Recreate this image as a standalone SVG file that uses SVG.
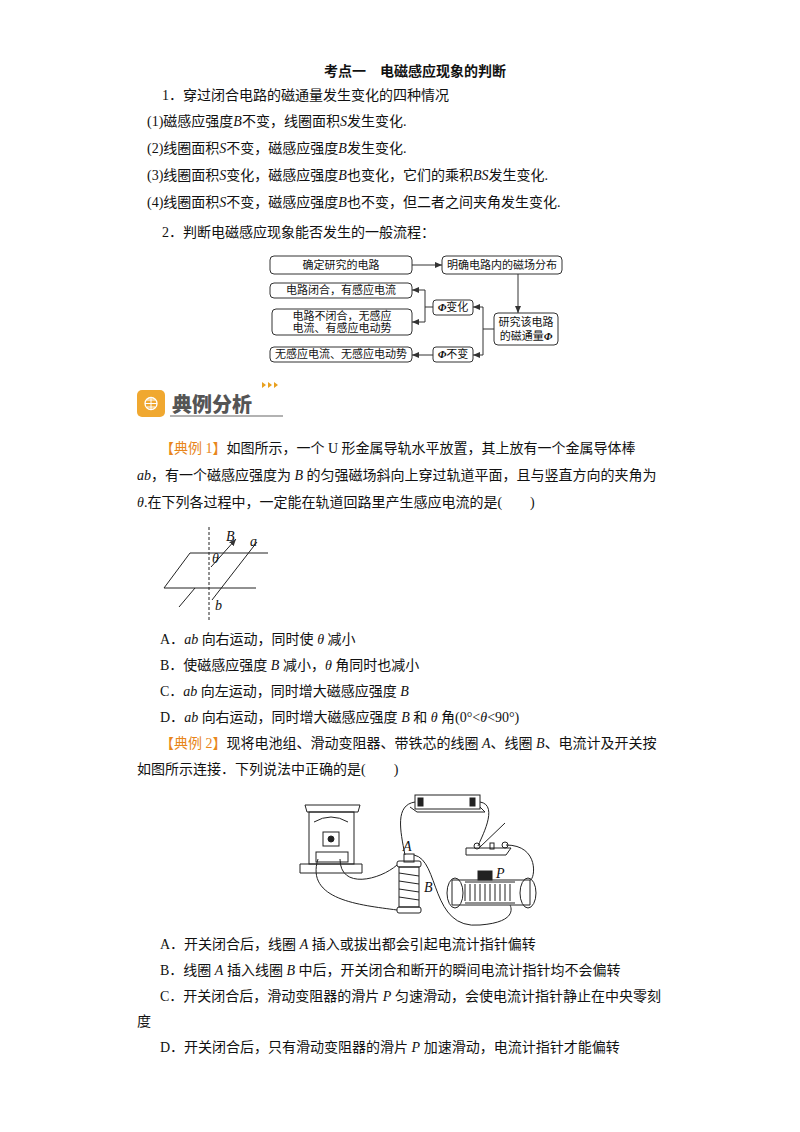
<svg xmlns="http://www.w3.org/2000/svg" width="800" height="1132" viewBox="0 0 800 1132">
<style>
text{font-family:"Liberation Serif","Noto Sans CJK SC",serif;font-size:14px;fill:#111}
.b{font-weight:bold}
.f{font-size:11px}
.box{fill:#fff;stroke:#333;stroke-width:1}
.ln{fill:none;stroke:#333;stroke-width:1}
.d{fill:none;stroke:#222;stroke-width:1}
.o{fill:#e8861a}
</style>
<defs><marker id="ar" markerWidth="8" markerHeight="8" refX="7" refY="4" orient="auto"><path d="M0,1 L7,4 L0,7 z" fill="#333"/></marker></defs>
<rect width="800" height="1132" fill="#fff"/>
<text x="415" y="76" text-anchor="middle" class="b">考点一　电磁感应现象的判断</text>
<text x="162" y="100">1．穿过闭合电路的磁通量发生变化的四种情况</text>
<text x="147" y="126">(1)磁感应强度<tspan font-style="italic">B</tspan>不变，线圈面积<tspan font-style="italic">S</tspan>发生变化.</text>
<text x="147" y="153">(2)线圈面积<tspan font-style="italic">S</tspan>不变，磁感应强度<tspan font-style="italic">B</tspan>发生变化.</text>
<text x="147" y="180">(3)线圈面积<tspan font-style="italic">S</tspan>变化，磁感应强度<tspan font-style="italic">B</tspan>也变化，它们的乘积<tspan font-style="italic">BS</tspan>发生变化.</text>
<text x="147" y="207">(4)线圈面积<tspan font-style="italic">S</tspan>不变，磁感应强度<tspan font-style="italic">B</tspan>也不变，但二者之间夹角发生变化.</text>
<text x="162" y="237">2．判断电磁感应现象能否发生的一般流程：</text>
<g id="n1"><rect class="box" x="270" y="256" width="142" height="18" rx="4"/><text class="f" x="341" y="269" text-anchor="middle">确定研究的电路</text></g>
<g id="n2"><rect class="box" x="442" y="256" width="120" height="18" rx="4"/><text class="f" x="502" y="269" text-anchor="middle">明确电路内的磁场分布</text></g>
<g id="n3"><rect class="box" x="494" y="313" width="64" height="32" rx="4"/><text class="f" x="526" y="326" text-anchor="middle">研究该电路</text><text class="f" x="526" y="340" text-anchor="middle">的磁通量<tspan font-style="italic" font-weight="bold">Φ</tspan></text></g>
<g id="n4"><rect class="box" x="433" y="300" width="40" height="15" rx="3"/><text class="f" x="453" y="311" text-anchor="middle"><tspan font-style="italic" font-weight="bold">Φ</tspan>变化</text></g>
<g id="n5"><rect class="box" x="433" y="347" width="40" height="15" rx="3"/><text class="f" x="453" y="358" text-anchor="middle"><tspan font-style="italic" font-weight="bold">Φ</tspan>不变</text></g>
<g id="n6"><rect class="box" x="270" y="283" width="142" height="15" rx="4"/><text class="f" x="341" y="294" text-anchor="middle">电路闭合，有感应电流</text></g>
<g id="n7"><rect class="box" x="272" y="309" width="140" height="26" rx="4"/><text class="f" x="342" y="320" text-anchor="middle">电路不闭合，无感应</text><text class="f" x="342" y="332" text-anchor="middle">电流、有感应电动势</text></g>
<g id="n8"><rect class="box" x="270" y="347" width="142" height="15" rx="4"/><text class="f" x="341" y="358" text-anchor="middle">无感应电流、无感应电动势</text></g>
<g id="conn" class="ln">
<path class="ln" d="M412,265 H442" marker-end="url(#ar)"/>
<path class="ln" d="M518,274 V313" marker-end="url(#ar)"/>
<path class="ln" d="M494,329 H483 V307 H473" marker-end="url(#ar)"/>
<path class="ln" d="M483,329 V355 H473" marker-end="url(#ar)"/>
<path class="ln" d="M433,307 H425 V290 H412" marker-end="url(#ar)"/>
<path class="ln" d="M425,307 V322 H412" marker-end="url(#ar)"/>
<path class="ln" d="M433,355 H412" marker-end="url(#ar)"/>
</g>
<g id="icon">
<rect x="137" y="390" width="28" height="27" rx="5" fill="#f0a830"/>
<circle cx="151" cy="403.5" r="6" fill="none" stroke="#fff" stroke-width="1.3"/>
<path d="M145,403.5 H157 M151,397.5 V409.5 M147,400 H155 M147,407 H155" stroke="#fff" stroke-width="1"/>
<text x="172" y="412" style="font-family:'Noto Sans CJK SC',sans-serif;font-size:20px;font-weight:900;fill:#555">典例分析</text>
<line x1="170" y1="416" x2="283" y2="416" stroke="#666" stroke-width="1.2"/>
<path d="M262,382 l4,3 l-4,3z M268,382 l4,3 l-4,3z M274,382 l4,3 l-4,3z" fill="#e8a020"/>
</g>
<text x="160" y="453"><tspan fill="#e8861a">【典例 1】</tspan>如图所示，一个 U 形金属导轨水平放置，其上放有一个金属导体棒</text>
<text x="137" y="480"><tspan font-style="italic">ab</tspan>，有一个磁感应强度为 <tspan font-style="italic">B</tspan> 的匀强磁场斜向上穿过轨道平面，且与竖直方向的夹角为</text>
<text x="137" y="507"><tspan font-style="italic">θ</tspan>.在下列各过程中，一定能在轨道回路里产生感应电流的是(　　)</text>
<g id="fig1" class="d">
<path d="M268,553 H190 L164,588 H256"/>
<path d="M257,542 L212,600"/>
<path d="M195,588 L179,607"/>
<path d="M209,527 V620" stroke-dasharray="3,2"/>
<path d="M211,567 L236,539" marker-end="url(#ar)"/>
<text x="226" y="541" font-size="10" font-style="italic" stroke="none">B</text>
<text x="250" y="546" font-size="10" font-style="italic" stroke="none">a</text>
<text x="212" y="563" font-size="10" font-style="italic" stroke="none">θ</text>
<text x="215" y="610" font-size="10" font-style="italic" stroke="none">b</text>
</g>
<text x="160" y="644">A．<tspan font-style="italic">ab</tspan> 向右运动，同时使 <tspan font-style="italic">θ</tspan> 减小</text>
<text x="160" y="670">B．使磁感应强度 <tspan font-style="italic">B</tspan> 减小，<tspan font-style="italic">θ</tspan> 角同时也减小</text>
<text x="160" y="696">C．<tspan font-style="italic">ab</tspan> 向左运动，同时增大磁感应强度 <tspan font-style="italic">B</tspan></text>
<text x="160" y="722">D．<tspan font-style="italic">ab</tspan> 向右运动，同时增大磁感应强度 <tspan font-style="italic">B</tspan> 和 <tspan font-style="italic">θ</tspan> 角(0°&lt;<tspan font-style="italic">θ</tspan>&lt;90°)</text>
<text x="160" y="748"><tspan fill="#e8861a">【典例 2】</tspan>现将电池组、滑动变阻器、带铁芯的线圈 <tspan font-style="italic">A</tspan>、线圈 <tspan font-style="italic">B</tspan>、电流计及开关按</text>
<text x="137" y="774">如图所示连接．下列说法中正确的是(　　)</text>
<g id="fig2" class="d">
<path d="M305,805 H360 L358,812 H307z"/>
<rect x="309" y="812" width="45" height="52"/>
<path d="M300,864 H362 V873 H300z"/>
<path d="M314,822 Q331,812 348,822"/>
<rect x="323" y="832" width="16" height="14"/><circle cx="331" cy="839" r="3" fill="#222"/>
<rect x="316" y="852" width="32" height="10"/>
<rect x="415" y="795" width="65" height="14"/><path d="M410,807 L417,812 H485 L480,807"/>
<rect x="418" y="798" width="5" height="8" fill="#222"/><rect x="470" y="798" width="5" height="8" fill="#222"/>
<path d="M466,848 H511 L506,855 H466z"/><path d="M480,847 L505,823"/><circle cx="477" cy="846" r="3"/><circle cx="505" cy="845" r="3"/><rect x="490" y="843" width="4" height="6"/>
<rect x="397" y="861" width="24" height="6" rx="2"/>
<rect x="399" y="867" width="20" height="40"/>
<path d="M399,873 L419,876 M399,881 L419,884 M399,889 L419,892 M399,897 L419,900"/>
<rect x="397" y="907" width="24" height="6" rx="2"/>
<rect x="404" y="854" width="10" height="8"/>
<path d="M452,880 H530 V905 H452z"/>
<path d="M465,882 H515 M465,903 H515"/>
<path d="M465,884 V901 M470,884 V901 M475,884 V901 M480,884 V901 M485,884 V901 M490,884 V901 M495,884 V901 M500,884 V901 M505,884 V901 M510,884 V901"/>
<ellipse cx="455" cy="893" rx="8" ry="15"/><ellipse cx="528" cy="893" rx="8" ry="15"/>
<rect x="478" y="871" width="14" height="9" fill="#222"/>
<path d="M318,859 C305,900 360,905 397,910"/><path d="M340,859 C340,890 380,880 397,865"/>
<path d="M405,855 C400,830 395,805 415,802"/><path d="M480,802 C500,805 480,840 478,846"/>
<path d="M414,855 C440,860 430,930 480,925 C520,922 510,905 510,905"/>
<path d="M506,845 C540,845 535,880 530,880"/>
<text x="403" y="851" font-size="11" font-style="italic" stroke="none">A</text>
<text x="424" y="892" font-size="11" font-style="italic" stroke="none">B</text>
<text x="496" y="878" font-size="11" font-style="italic" stroke="none">P</text>
</g>
<text x="160" y="949">A．开关闭合后，线圈 <tspan font-style="italic">A</tspan> 插入或拔出都会引起电流计指针偏转</text>
<text x="160" y="975">B．线圈 <tspan font-style="italic">A</tspan> 插入线圈 <tspan font-style="italic">B</tspan> 中后，开关闭合和断开的瞬间电流计指针均不会偏转</text>
<text x="160" y="1001">C．开关闭合后，滑动变阻器的滑片 <tspan font-style="italic">P</tspan> 匀速滑动，会使电流计指针静止在中央零刻</text>
<text x="137" y="1026">度</text>
<text x="160" y="1052">D．开关闭合后，只有滑动变阻器的滑片 <tspan font-style="italic">P</tspan> 加速滑动，电流计指针才能偏转</text>
</svg>
